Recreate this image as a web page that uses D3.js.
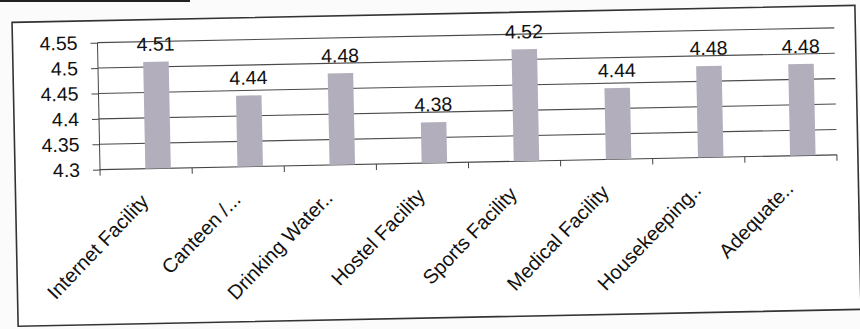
<!DOCTYPE html>
<html>
<head>
<meta charset="utf-8">
<script src="https://cdn.jsdelivr.net/npm/d3@7/dist/d3.min.js"></script>
<style>
  html, body { margin: 0; padding: 0; background: #fbfbfb; }
  svg { display: block; }
  text { font-family: "Liberation Sans", Arial, sans-serif; fill: #111; }
</style>
</head>
<body>
<div id="chart"></div>
<script>
const categories = ["Internet Facility", "Canteen /...", "Drinking Water..", "Hostel Facility",
                    "Sports Facility", "Medical Facility", "Housekeeping..", "Adequate.."];
const values = [4.51, 4.44, 4.48, 4.38, 4.52, 4.44, 4.48, 4.48];
const valueLabels = ["4.51", "4.44", "4.48", "4.38", "4.52", "4.44", "4.48", "4.48"];
const yTicks = [4.3, 4.35, 4.4, 4.45, 4.5, 4.55];
const yTickLabels = ["4.3", "4.35", "4.4", "4.45", "4.5", "4.55"];

const W = 860, H = 329;
const svg = d3.select("#chart").append("svg").attr("width", W).attr("height", H);
svg.append("rect").attr("width", W).attr("height", H).attr("fill", "#fbfbfb");
svg.append("rect").attr("x", 0).attr("y", 0).attr("width", 190).attr("height", 2).attr("fill", "#222");

const g = svg.append("g").attr("transform", "rotate(-1.15, 430, 165)");

g.append("rect").attr("x", 15).attr("y", 14).attr("width", 843).attr("height", 304)
  .attr("fill", "#ffffff").attr("stroke", "#333").attr("stroke-width", 1.6);

const pL = 100, pR = 837, pT = 36, pB = 163;
const x = d3.scaleBand().domain(categories).range([pL, pR]).padding(0);
const y = d3.scaleLinear().domain([4.3, 4.55]).range([pB, pT]);
const barShift = 12;

g.append("g").selectAll("line").data(yTicks.filter(t => t > 4.3)).join("line")
  .attr("x1", pL).attr("x2", pR)
  .attr("y1", d => y(d)).attr("y2", d => y(d))
  .attr("stroke", "#4a4a4a").attr("stroke-width", 1.1);

const yAxis = g.append("g").attr("transform", `translate(${pL},0)`)
  .call(d3.axisLeft(y).tickValues(yTicks).tickSize(7)
    .tickFormat((d, i) => yTickLabels[i]));
yAxis.select(".domain").attr("stroke", "#444").attr("d", `M0,${pT}V${pB}`);
yAxis.selectAll(".tick line").attr("stroke", "#444");
yAxis.selectAll(".tick text").attr("x", -20).attr("font-size", 19.5)
  .attr("font-family", "Liberation Sans, Arial, sans-serif").attr("fill", "#111");

g.append("line").attr("x1", pL).attr("x2", pR).attr("y1", pB).attr("y2", pB)
  .attr("stroke", "#444").attr("stroke-width", 1.1);
const bounds = categories.map(c => x(c)).concat([x(categories[categories.length - 1]) + x.bandwidth()]);
g.append("g").selectAll("line").data(bounds).join("line")
  .attr("x1", d => d).attr("x2", d => d).attr("y1", pB).attr("y2", pB + 6)
  .attr("stroke", "#444");

const barW = 25.5;
g.append("g").selectAll("rect").data(values).join("rect")
  .attr("x", (d, i) => x(categories[i]) + x.bandwidth() / 2 + barShift - barW / 2)
  .attr("y", d => y(d))
  .attr("width", barW)
  .attr("height", d => pB - y(d))
  .attr("fill", "#b3aebb");

g.append("g").selectAll("text").data(values).join("text")
  .attr("x", (d, i) => x(categories[i]) + x.bandwidth() / 2 + barShift)
  .attr("y", d => y(d) - 11)
  .attr("text-anchor", "middle").attr("font-size", 19.5)
  .text((d, i) => valueLabels[i]);

g.append("g").selectAll("text").data(categories).join("text")
  .attr("transform", c => `translate(${x(c) + x.bandwidth() / 2 + 3},${pB + 34}) rotate(-45)`)
  .attr("text-anchor", "end").attr("font-size", 20)
  .text(c => c);
</script>
</body>
</html>
